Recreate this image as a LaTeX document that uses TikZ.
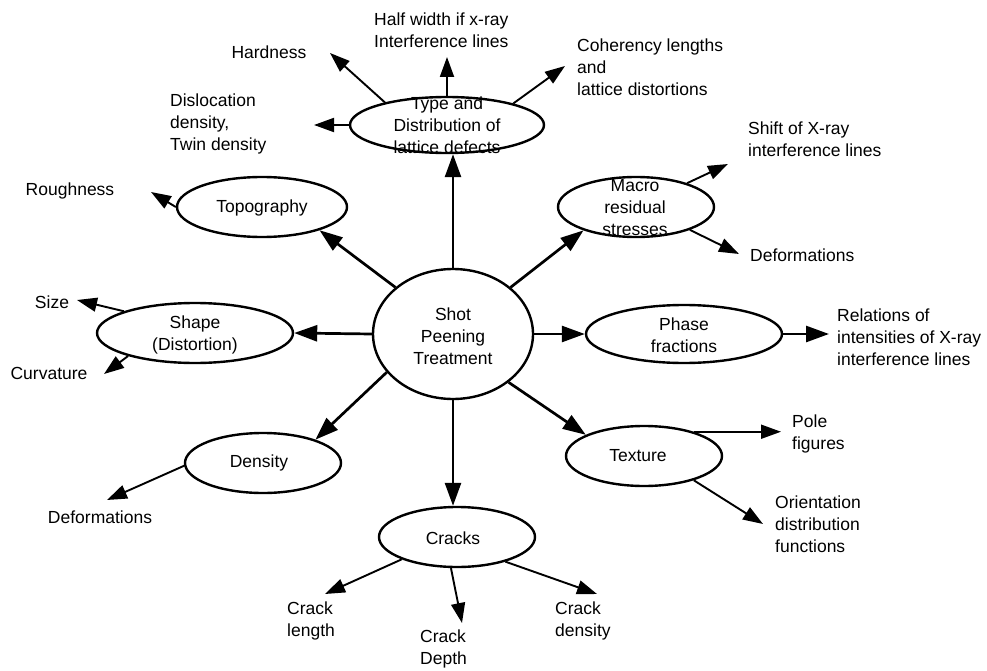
\documentclass[tikz,border=0pt]{standalone}
\usepackage{fontspec}
\setmainfont{Liberation Sans}
\usetikzlibrary{arrows.meta,shapes.geometric}
\begin{document}
\begin{tikzpicture}[x=1pt,y=-1pt,
  ell/.style={draw,line width=2.4pt,ellipse,inner sep=0pt},
  lbl/.style={inner sep=0pt,font=\fontsize{17.5}{22}\selectfont,align=center},
  txt/.style={inner sep=0pt,font=\fontsize{17.5}{22}\selectfont,align=left,anchor=west},
  mainarr/.style={line width=2.7pt,-{Triangle[length=23pt,width=16pt]}},
  subarr/.style={line width=1.9pt,-{Triangle[length=20pt,width=14pt]}}]
\fill[white] (0,0) rectangle (987,671);
\useasboundingbox (0,0) rectangle (987,671);

% ellipses
\node[ell,minimum width=160pt,minimum height=130pt] (C) at (453,334) {};
\node[lbl] (Ct) at (453,336) {Shot\\Peening\\Treatment};
\node[ell,minimum width=194pt,minimum height=56pt] (T) at (447,125) {};
\node[lbl] (Tt) at (447,125) {Type and\\Distribution of\\lattice defects};
\node[ell,minimum width=170pt,minimum height=60pt] (Topo) at (262,207) {};
\node[lbl] (Topot) at (262,208) {Topography};
\node[ell,minimum width=196pt,minimum height=60pt] (Shape) at (195,333) {};
\node[lbl] (Shapet) at (195,335) {Shape\\(Distortion)};
\node[ell,minimum width=156pt,minimum height=60pt] (Macro) at (636,207) {};
\node[lbl] (Macrot) at (635,208) {Macro\\residual\\stresses};
\node[ell,minimum width=196pt,minimum height=58pt] (Phase) at (684,334) {};
\node[lbl] (Phaset) at (684,335) {Phase\\fractions};
\node[ell,minimum width=156pt,minimum height=60pt] (Dens) at (263,463) {};
\node[lbl] (Denst) at (259,463) {Density};
\node[ell,minimum width=156pt,minimum height=60pt] (Tex) at (644,456) {};
\node[lbl] (Text) at (638,456) {Texture};
\node[ell,minimum width=156pt,minimum height=60pt] (Cr) at (457,537) {};
\node[lbl] (Crt) at (453,538) {Cracks};

% outer texts
\node[lbl] (hard) at (269,52) {Hardness};
\node[txt] (half) at (374,30) {Half width if x-ray\\Interference lines};
\node[txt] (coh) at (577,67) {Coherency lengths\\and\\lattice distortions};
\node[txt] (disl) at (170,124) {Dislocation\\density,\\Twin density};
\node[lbl] (rough) at (70,191) {Roughness};
\node[lbl] (size) at (52,302) {Size};
\node[lbl] (curv) at (49,373) {Curvature};
\node[txt] (shift) at (748,139) {Shift of X-ray\\interference lines};
\node[txt] (rdef) at (750,255) {Deformations};
\node[txt] (rel) at (837,337) {Relations of\\intensities of X-ray\\interference lines};
\node[txt] (pole) at (792,434) {Pole\\figures};
\node[txt] (orient) at (775,524) {Orientation\\distribution\\functions};
\node[lbl] (ldef) at (100,517) {Deformations};
\node[txt] (clen) at (287,621) {Crack\\length};
\node[txt] (cdep) at (420,649) {Crack\\Depth};
\node[txt] (cden) at (555,621) {Crack\\density};

% arrow tips
\coordinate (hardtip) at (330,53);
\coordinate (halftip) at (447,57);
\coordinate (cohtip) at (565,66);
\coordinate (distip) at (314,125);
\coordinate (roughtip) at (151,192);
\coordinate (sizetip) at (77,300);
\coordinate (curvtip) at (104,374);
\coordinate (shifttip) at (728,164);
\coordinate (rdeftip) at (739,254);
\coordinate (reltip) at (829,334);
\coordinate (poletip) at (781,433);
\coordinate (orienttip) at (763,524);
\coordinate (ldeftip) at (107,500);
\coordinate (clentip) at (325,594);
\coordinate (cdeptip) at (462,623);
\coordinate (cdentip) at (597,594);

% connectors from centre
\draw[mainarr] (C.north) -- (C.north |- T.south);
\draw[mainarr] (C.141) -- (Topo.-22);
\draw[mainarr] (C.west) -- (Shape.east);
\draw[mainarr] (C.39) -- (Macro.204);
\draw[mainarr] (C.east) -- (Phase.west);
\draw[mainarr] (C.210) -- (Dens.24);
\draw[mainarr] (C.-41) -- (Tex.160);
\draw[mainarr] (C.south) -- (C.south |- Cr.north);

% secondary connectors
\draw[subarr] (T.160) -- (hardtip);
\draw[subarr] (T.north) -- (halftip);
\draw[subarr] (T.18) -- (cohtip);
\draw[subarr] (T.west) -- (distip);
\draw[subarr] (Topo.west) -- (roughtip);
\draw[subarr] (Shape.163) -- (sizetip);
\draw[subarr] (Shape.199) -- (curvtip);
\draw[subarr] (Macro.25) -- (shifttip);
\draw[subarr] (Macro.-23) -- (rdeftip);
\draw[mainarr] (Phase.east) -- (reltip);
\draw[subarr] (Tex.26) -- (Tex.26 -| poletip);
\draw[subarr] (Tex.-26) -- (orienttip);
\draw[subarr] (Dens.182) -- (ldeftip);
\draw[subarr] (Cr.202) -- (clentip);
\draw[subarr] (Cr.259) -- (cdeptip);
\draw[subarr] (Cr.-27) -- (cdentip);
\end{tikzpicture}
\end{document}
